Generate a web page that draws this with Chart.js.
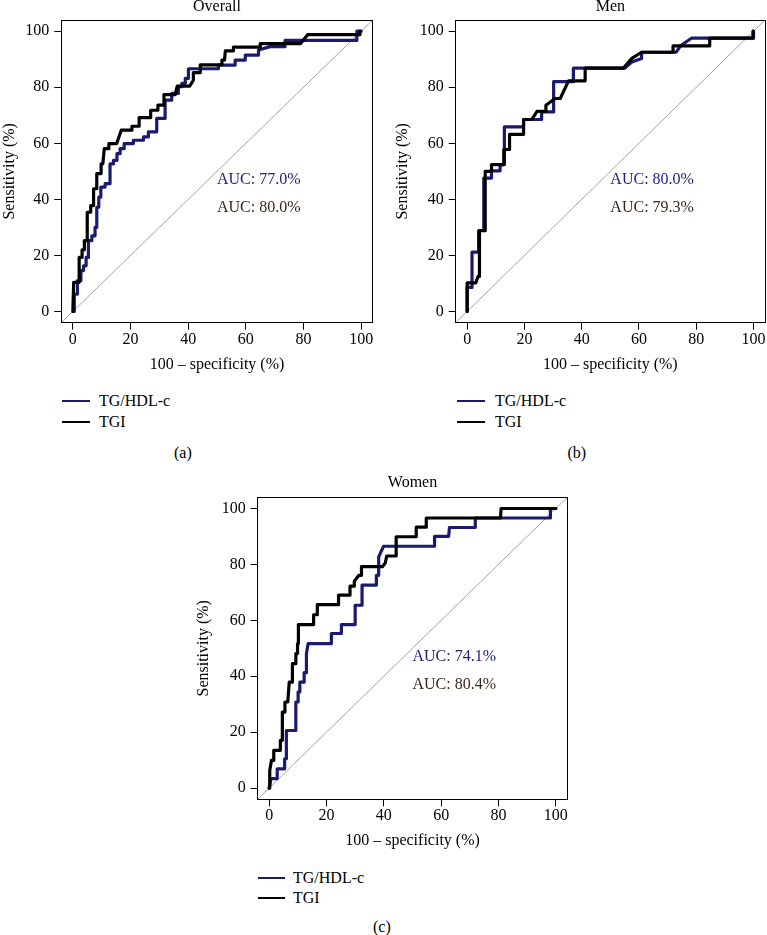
<!DOCTYPE html>
<html>
<head>
<meta charset="utf-8">
<script src="https://cdn.jsdelivr.net/npm/chart.js@4.4.1/dist/chart.umd.min.js"></script>
<style>
  html, body { margin: 0; padding: 0; background: #fff; }
  body { width: 767px; height: 935px; position: relative; overflow: hidden;
         font-family: 'Liberation Serif', 'DejaVu Serif', serif; color: #000; }
  canvas { position: absolute; }
  .lg-line { position: absolute; height: 0; border-top: 2px solid #000; }
  .lg-text, .caption { position: absolute; font-size: 16px; line-height: 20px; white-space: nowrap; }
</style>
</head>
<body>
<script>
const fontFamily = "'Liberation Serif', 'DejaVu Serif', serif";
const fontSize = 16;

// axes (both axes use the same percent scale)
const axisRange = [-4, 104];
const axisTicks = [0, 20, 40, 60, 80, 100];
const seriesNames = ['TG/HDL-c', 'TGI'];
const seriesColors = ['#1a1a6e', '#000000'];
const aucColors = ['#22227c', '#3b2619'];

// Overall
const overallRatioFpr = [0.5, 0.5, 1.6, 1.6, 2.8, 2.8, 3.7, 3.7, 4.6, 4.6, 5.4, 5.4, 6.6, 6.6, 7.7, 7.7, 8.3, 8.3, 9, 9, 9.7, 9.7, 11.2, 11.2, 12.9, 12.9, 14.1, 14.1, 15.3, 15.3, 16.4, 16.4, 17.8, 17.8, 21, 21, 24.5, 24.5, 26.2, 26.2, 29.1, 29.1, 32, 32, 34.3, 34.3, 36.6, 36.6, 37.8, 37.8, 39, 39, 40.1, 40.1, 50.5, 50.5, 56.3, 56.3, 59.8, 59.8, 64.4, 64.4, 68.4, 73.6, 73.6, 98.5, 98.5, 100];
const overallRatioTpr = [0, 6.2, 6.2, 11, 11, 14.6, 14.6, 16.3, 16.3, 19.3, 19.3, 25.3, 25.3, 27, 27, 30, 30, 37.2, 37.2, 40.8, 40.8, 44.4, 44.4, 45.6, 45.6, 52.7, 52.7, 53.9, 53.9, 56.3, 56.3, 58.1, 58.1, 59.9, 59.9, 61.1, 61.1, 62.3, 62.3, 64.1, 64.1, 68.9, 68.9, 75.4, 75.4, 77.8, 77.8, 80.2, 80.2, 81.4, 81.4, 83.2, 83.2, 86.6, 86.6, 87.9, 87.9, 89.7, 89.7, 91.5, 91.5, 93.3, 94.5, 94.5, 96.7, 96.7, 100, 100];
const overallTgiFpr = [0, 0.3, 2.2, 2.2, 3.2, 3.2, 4, 4, 5, 5, 6.2, 6.2, 7.2, 7.2, 8.3, 8.3, 9.8, 9.8, 10.4, 10.9, 12.5, 12.5, 15.2, 16.8, 20.5, 20.5, 23, 23, 27, 27, 29.5, 29.5, 31.6, 31.6, 35.5, 36.2, 40.5, 41.8, 41.8, 44.2, 44.2, 51.5, 51.7, 52.6, 52.9, 55.7, 55.7, 65, 65, 79, 81.5, 99.6, 99.6];
const overallTgiTpr = [0, 10.4, 10.4, 19.3, 19.3, 22, 22, 25.3, 25.3, 35.4, 35.4, 37.8, 37.8, 43.8, 43.8, 49.2, 49.2, 52.7, 52.7, 58.1, 58.1, 59.9, 59.9, 64.7, 64.7, 66.1, 66.1, 69.2, 69.2, 71.8, 71.8, 73.6, 73.6, 77.4, 77.4, 80.4, 80.4, 82.5, 85.2, 85.2, 88, 88, 89.7, 89.7, 93, 93, 94.3, 94.3, 95.6, 95.6, 98.8, 98.8, 100];
const overallAuc = [77.0, 80.0];

// Men
const menRatioFpr = [0, 0, 1.7, 1.7, 4, 4, 5.8, 5.8, 8.5, 8.5, 11.5, 11.5, 13, 13, 19.7, 19.7, 26, 26, 30.2, 30.2, 37.1, 37.1, 55, 57.5, 60.9, 60.9, 73, 74.5, 78.3, 100, 100];
const menRatioTpr = [0, 8.6, 8.6, 21.2, 21.2, 28.9, 28.9, 47.6, 47.6, 50.2, 50.2, 52.4, 52.4, 65.9, 65.9, 68.5, 68.5, 71.2, 71.2, 82, 82, 86.8, 86.8, 89, 90.3, 92.5, 92.5, 94.8, 97.5, 97.5, 100];
const menTgiFpr = [0, 0, 3, 3.8, 4.3, 4.3, 6.3, 6.3, 8.5, 8.5, 12.8, 12.8, 14.8, 14.8, 19.7, 19.7, 22.6, 24.4, 27.5, 27.5, 30.7, 32.5, 35.4, 41.2, 41.2, 54.5, 57.5, 60.9, 71.9, 71.9, 84.7, 84.7, 99.8, 99.8];
const menTgiTpr = [0, 10.2, 10.2, 12.5, 12.5, 28.8, 28.8, 50, 50, 52.4, 52.4, 57.8, 57.8, 63.2, 63.2, 68.5, 68.5, 71.4, 71.4, 73.6, 76, 76, 82.3, 82.3, 86.8, 86.8, 90.3, 92.5, 92.5, 94.8, 94.8, 97.5, 97.5, 100];
const menAuc = [80.0, 79.3];

// Women
const womenRatioFpr = [0, 0.6, 2.8, 2.8, 5.4, 5.4, 6, 6, 9.3, 9.3, 10.1, 10.1, 10.7, 10.7, 12.2, 12.2, 13, 13, 13.6, 21.7, 21.7, 25.2, 25.2, 30, 30, 32.4, 32.4, 37.4, 37.4, 38.2, 38.2, 39.9, 57.7, 57.7, 62.6, 62.9, 71.9, 71.9, 98.1, 98.1, 100];
const womenRatioTpr = [0, 3.4, 3.4, 6.9, 6.9, 10.5, 10.5, 20.6, 20.6, 30.8, 30.8, 34.4, 34.4, 37.9, 37.9, 41.3, 41.3, 48.1, 51.7, 51.7, 55.3, 55.3, 58.5, 58.5, 65.4, 65.4, 72.6, 72.6, 76.1, 76.1, 82.7, 86.5, 86.5, 90, 90, 93.2, 93.2, 96.6, 96.6, 100, 100];
const womenTgiFpr = [0, 0.2, 0.8, 1.6, 1.6, 3.9, 3.9, 4.6, 4.6, 5.5, 5.5, 6.5, 7, 8.1, 8.1, 9.1, 9.3, 9.9, 9.9, 10.2, 10.2, 15.5, 15.5, 16.8, 16.8, 24.2, 24.2, 28.2, 28.2, 29.7, 29.7, 31.3, 32.2, 32.2, 39.5, 40.5, 41, 44.3, 44.3, 51.3, 51.3, 54.8, 54.8, 80.7, 80.9, 100];
const womenTgiTpr = [0, 6.3, 9.9, 9.9, 13.5, 13.5, 17.1, 17.1, 27.2, 27.2, 30.8, 30.8, 37.9, 37.9, 44.5, 44.5, 48.1, 48.1, 51.7, 51.7, 58.5, 58.5, 62, 62, 65.6, 65.6, 69, 69, 72.2, 72.2, 74, 76.1, 76.1, 79.2, 79.2, 80.5, 83, 83, 89.9, 89.9, 93.3, 93.3, 96.6, 96.6, 100, 100];
const womenAuc = [74.1, 80.4];

const aucTextX = 50;
const aucTextY = [47, 37];

function zip(xs, ys) {
    return xs.map((v, i) => ({ x: v, y: ys[i] }));
}

function addText(cls, text, left, top, color) {
    const el = document.createElement('div');
    el.className = cls;
    el.textContent = text;
    el.style.left = left + 'px';
    el.style.top = top + 'px';
    if (color) el.style.color = color;
    document.body.appendChild(el);
    return el;
}

// one ROC panel: canvas placement, plot box and text rows in page pixels
function makePanel(p) {
    const lh = fontSize * 1.2;
    const padLeft = p.yTitleX - p.cx - lh / 2;
    const yWidth = p.box[0] - p.cx - padLeft;
    const padRight = p.cx + p.cw - p.box[2];
    const titlePadTop = p.titleY - p.cy - lh / 2;
    const titlePadBottom = p.box[1] - p.cy - lh - titlePadTop;
    const xHeight = p.xTitleY + lh / 2 - p.box[3];
    const padBottom = p.cy + p.ch - (p.xTitleY + lh / 2);

    const canvas = document.createElement('canvas');
    canvas.width = p.cw;
    canvas.height = p.ch;
    canvas.style.left = p.cx + 'px';
    canvas.style.top = p.cy + 'px';
    document.body.appendChild(canvas);

    const tickFont = { family: fontFamily, size: fontSize };

    const framePlugin = {
        id: 'frame',
        afterDatasetsDraw(chart) {
            const { ctx, chartArea: a } = chart;
            const x = chart.scales.x, y = chart.scales.y;
            ctx.save();
            ctx.strokeStyle = '#000';
            ctx.lineWidth = 1;
            const l = Math.floor(a.left) + 0.5, t = Math.floor(a.top) + 0.5;
            const r = Math.floor(a.right) + 0.5, b = Math.floor(a.bottom) + 0.5;
            ctx.strokeRect(l, t, r - l, b - t);
            ctx.font = fontSize + 'px ' + fontFamily;
            ctx.textAlign = 'left';
            ctx.textBaseline = 'middle';
            p.auc.forEach((v, i) => {
                ctx.fillStyle = aucColors[i];
                ctx.fillText('AUC: ' + v.toFixed(1) + '%', x.getPixelForValue(aucTextX), y.getPixelForValue(aucTextY[i]));
            });
            ctx.restore();
        }
    };

    const axis = (titleText, sizeFn) => ({
        type: 'linear',
        min: axisRange[0],
        max: axisRange[1],
        afterBuildTicks: s => { s.ticks = axisTicks.map(v => ({ value: v })); },
        afterFit: sizeFn,
        grid: { drawOnChartArea: false, drawTicks: true, tickLength: 7, color: '#000', tickColor: '#000', lineWidth: 1 },
        border: { display: true, color: '#000', width: 1 },
        ticks: { color: '#000', font: tickFont, maxRotation: 0, autoSkip: false },
        title: { display: true, text: titleText, color: '#000', font: tickFont, padding: 0 }
    });

    const xAxis = axis('100 \u2013 specificity (%)', s => { s.height = xHeight; });
    xAxis.ticks.padding = 0;
    const yAxis = axis('Sensitivity (%)', s => { s.width = yWidth; });
    yAxis.ticks.padding = 5;

    new Chart(canvas, {
        type: 'line',
        data: {
            datasets: [
                { label: seriesNames[1], data: zip(p.tgiFpr, p.tgiTpr), borderColor: seriesColors[1], borderWidth: 3.2, order: 0 },
                { label: seriesNames[0], data: zip(p.ratioFpr, p.ratioTpr), borderColor: seriesColors[0], borderWidth: 3.2, order: 1 },
                { label: 'chance', data: zip(axisRange, axisRange), borderColor: '#8c8c8c', borderWidth: 0.8, order: 2 }
            ]
        },
        options: {
            responsive: false,
            animation: false,
            events: [],
            elements: {
                point: { radius: 0 },
                line: { tension: 0, borderCapStyle: 'round', borderJoinStyle: 'round', fill: false }
            },
            layout: { padding: { left: padLeft, right: padRight, top: 0, bottom: padBottom } },
            scales: { x: xAxis, y: yAxis },
            plugins: {
                legend: { display: false },
                tooltip: { enabled: false },
                title: {
                    display: true,
                    text: p.title,
                    fullSize: false,
                    color: '#000',
                    font: { family: fontFamily, size: fontSize, weight: 'normal' },
                    padding: { top: titlePadTop, bottom: titlePadBottom }
                }
            }
        },
        plugins: [framePlugin]
    });

    // legend rows and panel caption
    seriesNames.forEach((name, i) => {
        const line = document.createElement('div');
        line.className = 'lg-line';
        line.style.left = p.legend[0] + 'px';
        line.style.width = (p.legend[1] - p.legend[0]) + 'px';
        line.style.top = (p.legendRows[i] - 1) + 'px';
        line.style.borderTopColor = seriesColors[i];
        document.body.appendChild(line);
        addText('lg-text', name, p.legend[2], p.legendRows[i] - 10);
    });
    const cap = addText('caption', p.caption, 0, p.captionPos[1] - 10);
    cap.style.left = (p.captionPos[0] - cap.offsetWidth / 2) + 'px';
}

makePanel({
    title: 'Overall', caption: '(a)',
    ratioFpr: overallRatioFpr, ratioTpr: overallRatioTpr,
    tgiFpr: overallTgiFpr, tgiTpr: overallTgiTpr, auc: overallAuc,
    cx: 0, cy: -4, cw: 383, ch: 382,
    box: [61.3, 20, 372.7, 322.7],
    yTitleX: 10, xTitleY: 365, titleY: 6.5,
    legend: [62, 90, 99], legendRows: [401, 422], captionPos: [183, 453]
});

makePanel({
    title: 'Men', caption: '(b)',
    ratioFpr: menRatioFpr, ratioTpr: menRatioTpr,
    tgiFpr: menTgiFpr, tgiTpr: menTgiTpr, auc: menAuc,
    cx: 384, cy: -4, cw: 383, ch: 382,
    box: [455.7, 20, 765, 322.7],
    yTitleX: 402.5, xTitleY: 365, titleY: 6.5,
    legend: [457, 485, 495], legendRows: [401, 422], captionPos: [577, 453]
});

makePanel({
    title: 'Women', caption: '(c)',
    ratioFpr: womenRatioFpr, ratioTpr: womenRatioTpr,
    tgiFpr: womenTgiFpr, tgiTpr: womenTgiTpr, auc: womenAuc,
    cx: 190, cy: 473, cw: 390, ch: 382,
    box: [257.7, 497.3, 567.3, 799.3],
    yTitleX: 204, xTitleY: 841, titleY: 482.5,
    legend: [258, 285, 293], legendRows: [878, 898], captionPos: [382, 927]
});
</script>
</body>
</html>
